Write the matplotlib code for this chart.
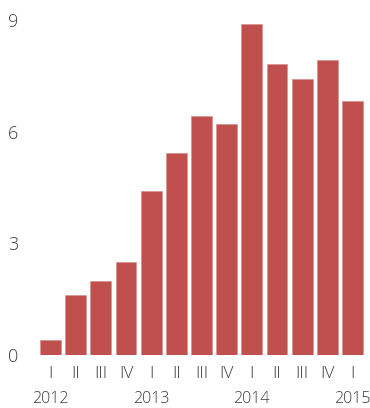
import matplotlib
matplotlib.use("Agg")
import matplotlib.pyplot as plt
from matplotlib import transforms

quarters = ["I", "II", "III", "IV", "I", "II", "III", "IV", "I", "II", "III", "IV", "I"]
years = ["2012", "2013", "2014", "2015"]
year_positions = [0, 4, 8, 12]
values = [0.40, 1.61, 2.00, 2.51, 4.41, 5.43, 6.42, 6.21, 8.91, 7.81, 7.41, 7.92, 6.82]
yticks = [0, 3, 6, 9]

plt.rcParams['font.family'] = ['Open Sans', 'DejaVu Sans']
text_color = '#3c3c3c'

fig = plt.figure(figsize=(3.70, 4.08), dpi=100)
ax = fig.add_axes([38/370, 53/408, 327/370, (355-9)/408])

x = list(range(len(values)))
ax.bar(x, values, width=0.83, color='#C0504D', edgecolor='#D9918F', linewidth=0.5)

ax.set_xlim(-0.5, len(values) - 0.5)
ax.set_ylim(0, 9.3)
ax.set_yticks(yticks)
ax.set_yticklabels([str(t) for t in yticks])
ax.set_xticks(x)
ax.set_xticklabels(quarters)

for s in ax.spines.values():
    s.set_visible(False)
ax.tick_params(axis='y', length=0, pad=14, labelsize=13, labelcolor=text_color)
ax.tick_params(axis='x', length=0, pad=8, labelsize=12.5, labelcolor=text_color)
for lab in ax.get_xticklabels() + ax.get_yticklabels():
    lab.set_fontweight('light')

trans = transforms.blended_transform_factory(ax.transData, fig.transFigure)
for pos, yr in zip(year_positions, years):
    ax.text(pos, 1 - 399/408, yr, transform=trans, ha='center', va='center',
            fontsize=11.5, color=text_color, fontweight='light')

fig.savefig("out.png", dpi=100)
